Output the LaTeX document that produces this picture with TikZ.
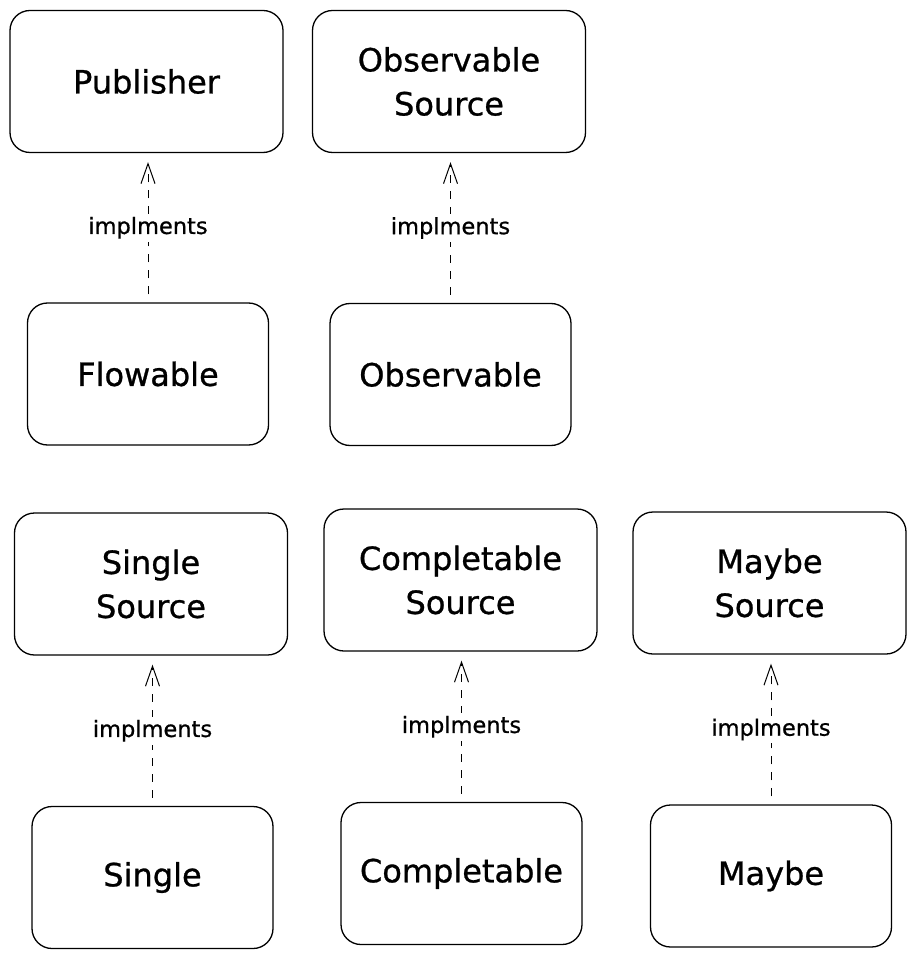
\documentclass[tikz,border=0pt]{standalone}
\usepackage{fontspec}
\newfontfamily\handfont{DejaVu Sans}[FakeBold=0.8]
\usetikzlibrary{arrows.meta}
\begin{document}
\begin{tikzpicture}[x=1pt,y=-1pt,
  box/.style={draw,line width=1.3pt,rounded corners=20pt,align=center,
    minimum width=241pt,minimum height=142pt,font=\handfont\fontsize{32}{44}\selectfont},
  src/.style={box,minimum width=273pt},
  impl/.style={dashed,dash pattern=on 8pt off 8pt,line width=1pt,
    -{Straight Barb[length=20pt,width=14pt,line width=1pt]},
    shorten <=8pt,shorten >=9pt},
  lbl/.style={fill=white,inner sep=3pt,font=\handfont\fontsize{22.5}{26}\selectfont}]
\useasboundingbox (0,0) rectangle (915,957);
% top row
\node[src] (pub) at (146.5,81.5) {Publisher};
\node[src] (obssrc) at (449,81.5) {Observable\\Source};
\node[box] (flow) at (148,374) {Flowable};
\node[box] (obs) at (450.5,374.5) {Observable};
% bottom row
\node[src] (sglsrc) at (151,584) {Single\\Source};
\node[src] (cplsrc) at (460.5,580) {Completable\\Source};
\node[src] (maysrc) at (769.5,583) {Maybe\\Source};
\node[box] (sgl) at (152.5,877.5) {Single};
\node[box] (cpl) at (461.5,873.5) {Completable};
\node[box] (may) at (771,876) {Maybe};
%%%%
\foreach \a/\b in {flow/pub,obs/obssrc,sgl/sglsrc,cpl/cplsrc,may/maysrc}
\draw[impl] (\a.north) -- (\a.north |- \b.south) node[midway,lbl] {implments};
\end{tikzpicture}
\end{document}
